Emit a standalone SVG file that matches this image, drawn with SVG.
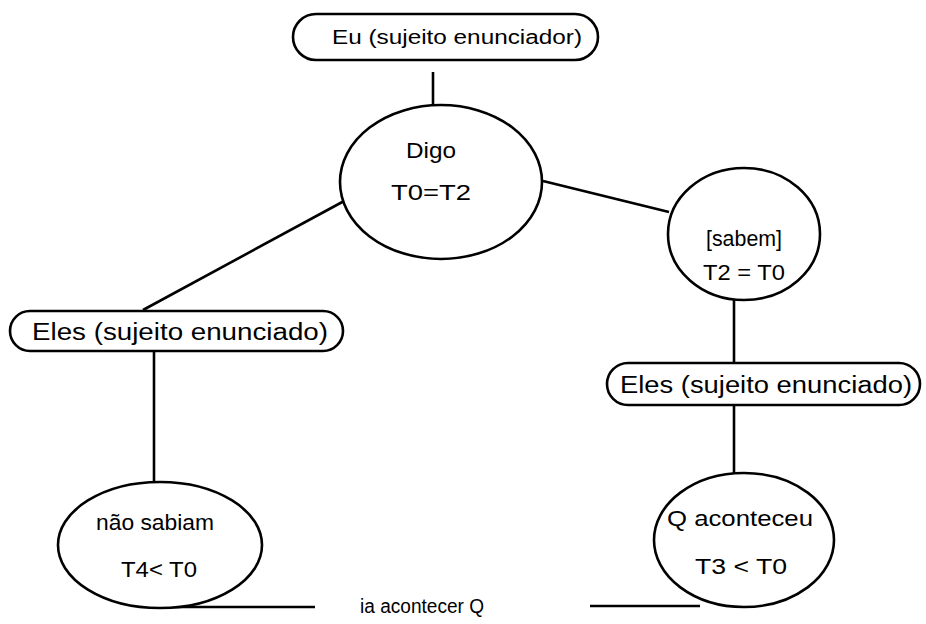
<svg xmlns="http://www.w3.org/2000/svg" width="926" height="624" viewBox="0 0 926 624">
<style>
.shape{fill:#fff;stroke:#000;stroke-width:2.6}
.conn line{stroke:#000;stroke-width:2.6}
text{font-family:"Liberation Sans","DejaVu Sans",sans-serif;fill:#000;text-anchor:middle}
.p{font-size:23px}
.t{font-size:20px}
.e{font-size:22px}
</style>
<rect width="926" height="624" fill="#fff"/>
<g id="connectors" class="conn">
<line x1="433" y1="72" x2="433" y2="105"/>
<line x1="543" y1="181" x2="669" y2="212"/>
<line x1="346" y1="200" x2="143" y2="310"/>
<line x1="154" y1="351" x2="154" y2="482"/>
<line x1="734" y1="299" x2="734" y2="363"/>
<line x1="734" y1="405" x2="734" y2="474"/>
<line x1="160" y1="607" x2="315" y2="607"/>
<line x1="590" y1="606" x2="700" y2="606"/>
</g>
<g id="eu">
<rect class="shape" x="293" y="14" width="305" height="46" rx="23"/>
<text class="t" x="457" y="44" textLength="250" lengthAdjust="spacingAndGlyphs">Eu (sujeito enunciador)</text>
</g>
<g id="digo">
<ellipse class="shape" cx="441" cy="182" rx="101" ry="77"/>
<text class="e" x="431" y="158" textLength="50" lengthAdjust="spacingAndGlyphs">Digo</text>
<text class="e" x="431" y="200" textLength="80" lengthAdjust="spacingAndGlyphs">T0=T2</text>
</g>
<g id="sabem">
<ellipse class="shape" cx="744" cy="234" rx="76" ry="66"/>
<text class="e" x="744" y="246" textLength="76" lengthAdjust="spacingAndGlyphs">[sabem]</text>
<text class="e" x="744" y="280" textLength="82" lengthAdjust="spacingAndGlyphs">T2 = T0</text>
</g>
<g id="eles-left">
<rect class="shape" x="10" y="311" width="333" height="40" rx="20"/>
<text class="p" x="180" y="340" textLength="296" lengthAdjust="spacingAndGlyphs">Eles (sujeito enunciado)</text>
</g>
<g id="eles-right">
<rect class="shape" x="607" y="363" width="313" height="42" rx="21"/>
<text class="p" x="766" y="393" textLength="292" lengthAdjust="spacingAndGlyphs">Eles (sujeito enunciado)</text>
</g>
<g id="nao-sabiam">
<ellipse class="shape" cx="160" cy="545" rx="102" ry="63"/>
<text class="e" x="155" y="530" textLength="118" lengthAdjust="spacingAndGlyphs">não sabiam</text>
<text class="e" x="159" y="577" textLength="76" lengthAdjust="spacingAndGlyphs">T4&lt; T0</text>
</g>
<g id="q-aconteceu">
<ellipse class="shape" cx="744" cy="540" rx="90" ry="67"/>
<text class="e" x="740" y="526" textLength="146" lengthAdjust="spacingAndGlyphs">Q aconteceu</text>
<text class="e" x="741" y="574" textLength="92" lengthAdjust="spacingAndGlyphs">T3 &lt; T0</text>
</g>
<g id="ia-acontecer">
<text class="t" x="422" y="613" textLength="124" lengthAdjust="spacingAndGlyphs">ia acontecer Q</text>
</g>
</svg>
